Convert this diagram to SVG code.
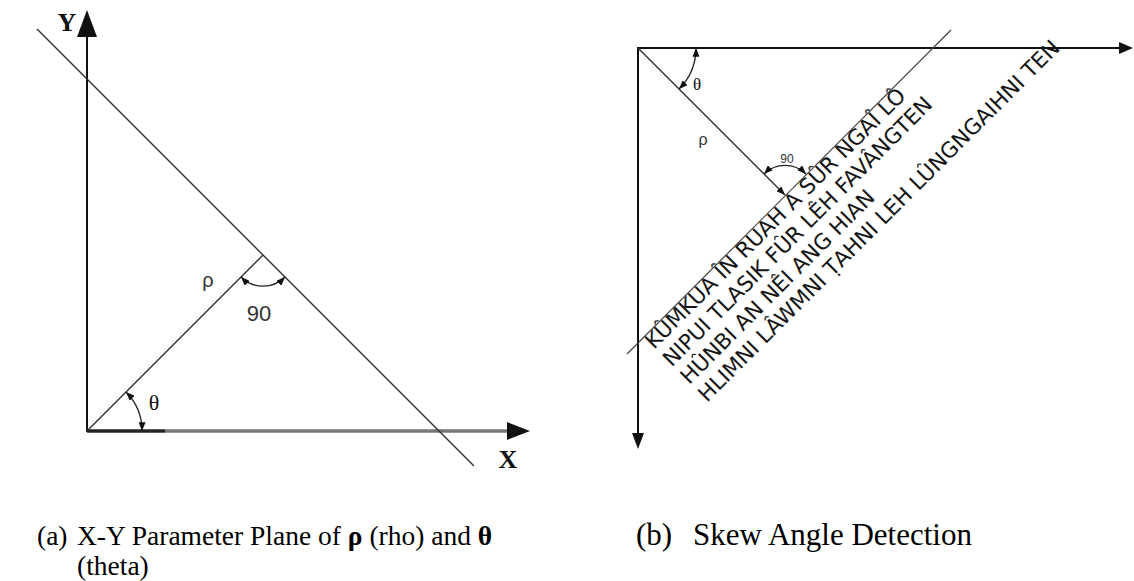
<svg xmlns="http://www.w3.org/2000/svg" width="1134" height="581" viewBox="0 0 1134 581">
  <style>
    .axis { stroke: #111; stroke-width: 2; fill: none; }
    .thin { stroke: #333; stroke-width: 1.4; fill: none; }
    .arc { stroke: #222; stroke-width: 1.3; fill: none; }
    .head { fill: #111; }
    .serif { font-family: "Liberation Serif", "Times New Roman", serif; fill: #111; }
    .sans { font-family: "Liberation Sans", Arial, sans-serif; fill: #333; }
    .skew { font-family: "DejaVu Sans", Verdana, sans-serif; font-size: 21.5px; fill: #151515; }
    .cap { font-family: "Liberation Serif", "Times New Roman", serif; fill: #000; }
  </style>
  <defs>
    <marker id="ah" viewBox="0 0 10 8" refX="10" refY="4" markerWidth="9" markerHeight="7" markerUnits="userSpaceOnUse" orient="auto-start-reverse">
      <path d="M0,0 L10,4 L0,8 z" fill="#111"/>
    </marker>
  </defs>

  <!-- (a) X-Y parameter plane -->
  <g id="plane-a">
    <g id="a-axes">
      <line class="axis" x1="87" y1="432" x2="87" y2="34"/>
      <polygon class="head" points="87,10 77,37 97,37"/>
      <line x1="87" y1="431" x2="510" y2="431" stroke="#777" stroke-width="3.5"/>
      <line x1="87" y1="431" x2="165" y2="431" stroke="#222" stroke-width="3"/>
      <polygon class="head" points="530,431 507,422 507,440"/>
    </g>
    <g id="a-lines">
      <line class="thin" x1="37" y1="29" x2="474" y2="466"/>
      <line class="thin" x1="87" y1="431" x2="263" y2="255"/>
      <path class="arc" d="M241,277 A31,31 0 0 0 285,277" marker-start="url(#ah)" marker-end="url(#ah)"/>
      <path class="arc" d="M126,392 A55,55 0 0 1 142,431" marker-start="url(#ah)" marker-end="url(#ah)"/>
    </g>
    <g id="a-labels">
      <text class="serif" x="67" y="31" font-size="26" font-weight="bold" text-anchor="middle">Y</text>
      <text class="serif" x="508" y="468" font-size="26" font-weight="bold" text-anchor="middle">X</text>
      <text class="sans" x="208" y="287" font-size="20" text-anchor="middle">ρ</text>
      <text class="sans" x="259" y="321" font-size="22" text-anchor="middle">90</text>
      <text class="serif" x="154" y="410" font-size="22" text-anchor="middle">θ</text>
    </g>
  </g>

  <!-- (b) Skew angle detection -->
  <g id="plane-b">
    <g id="b-axes">
      <line class="axis" x1="637" y1="48" x2="1121" y2="48"/>
      <polygon class="head" points="1133,48 1119,42 1119,54"/>
      <line class="axis" x1="638" y1="47" x2="638" y2="435"/>
      <polygon class="head" points="638,449 632,433 644,433"/>
    </g>
    <g id="b-lines">
      <line x1="627" y1="354" x2="951" y2="30" stroke="#444" stroke-width="1.2"/>
      <line class="thin" x1="638" y1="48" x2="785" y2="195" marker-end="url(#ah)"/>
      <path class="arc" d="M696,48 A58,58 0 0 1 679,89" marker-start="url(#ah)" marker-end="url(#ah)"/>
      <path class="arc" d="M764,174 A30,30 0 0 1 806,174" marker-start="url(#ah)" marker-end="url(#ah)"/>
    </g>
    <g id="b-labels">
      <text class="serif" x="697" y="90" font-size="17" text-anchor="middle">θ</text>
      <text class="sans" x="703" y="145" font-size="16" text-anchor="middle">ρ</text>
      <text class="sans" x="787" y="163" font-size="12" text-anchor="middle">90</text>
    </g>
    <g id="skewed-text" transform="translate(654,350) rotate(-45)">
      <text class="skew" x="0" y="0">KÛMKUA ÎN RUAH A SÛR NGAÎ LÔ</text>
      <text class="skew" x="0" y="25">NIPUI TLASIK FÛR LÊH FAVÂNGTEN</text>
      <text class="skew" x="0" y="50">HÛNBI AN NÊI ANG HIAN</text>
      <text class="skew" x="0" y="75">HLIMNI LÂWMNI ṬAHNI LEH LÛNGNGAIHNI TEN</text>
    </g>
  </g>

  <!-- captions -->
  <g id="captions">
    <text class="cap" font-size="27.5" x="37" y="545">(a)</text>
    <text class="cap" font-size="27.5" x="77" y="545">X-Y Parameter Plane of <tspan font-weight="bold">ρ</tspan> (rho) and <tspan font-weight="bold">θ</tspan></text>
    <text class="cap" font-size="27.5" x="77" y="575">(theta)</text>
    <text class="cap" font-size="31" x="636" y="545">(b)</text>
    <text class="cap" font-size="31" x="693" y="545">Skew Angle Detection</text>
  </g>
</svg>
